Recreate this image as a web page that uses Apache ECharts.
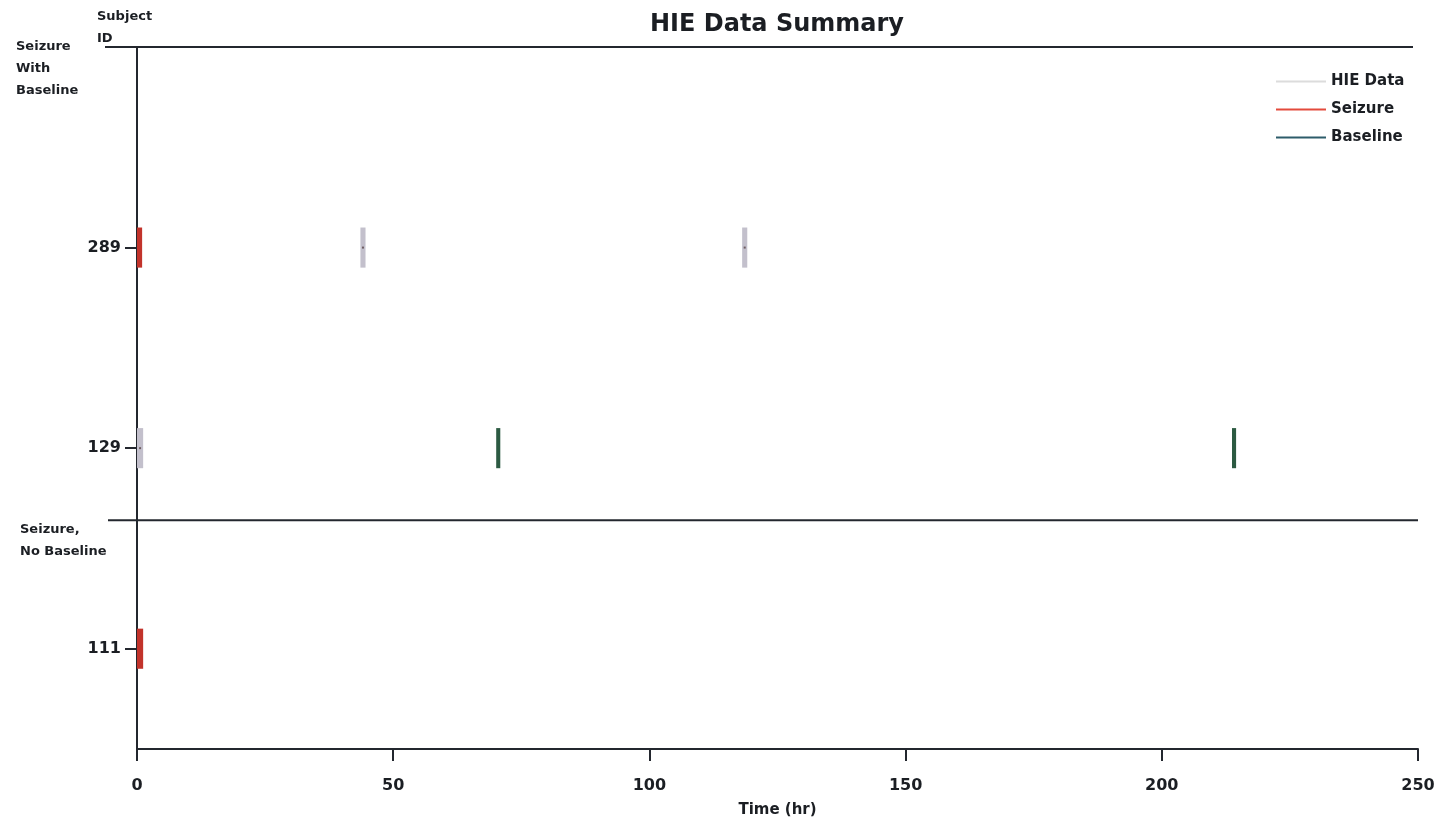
<!DOCTYPE html>
<html>
<head>
<meta charset="utf-8">
<title>HIE Data Summary</title>
<script src="https://cdn.jsdelivr.net/npm/echarts@6/dist/echarts.min.js"></script>
<style>
  html, body { margin: 0; padding: 0; background: #fff; }
  #main { width: 1439px; height: 824px; }
</style>
</head>
<body>
<div id="main"></div>
<script>
// subjects, bottom to top (row i sits at i + 0.5)
var subjects = ['111', '129', '289'];

// intervals in hours: [start, end, subject row]
var hieData = [
    [43.6, 44.6, 2],
    [118.1, 119.1, 2],
    [0, 1.2, 1]
];
var seizureData = [
    [0, 1.0, 2],
    [0, 1.2, 0]
];
var baselineData = [
    [70.1, 70.9, 1],
    [213.7, 214.5, 1]
];

// group boundaries (y value of the line above each group)
var groupNames = ['Seizure\nWith\nBaseline', 'Seizure,\nNo Baseline'];
var groupTops = [3.5, 1.14];

var textColor = '#1b1e23';
var lineColor = '#23272e';
var font = 'DejaVu Sans';

var myChart = echarts.init(document.getElementById('main'));

function rowPos(i) {
    return i + 0.5;
}

// draw one interval as a thin vertical bar
function renderBar(params, api) {
    var y = rowPos(api.value(2));
    var p0 = api.coord([api.value(0), y + 0.1]);
    var p1 = api.coord([api.value(1), y - 0.1]);
    var w = Math.max(p1[0] - p0[0], 3);
    var children = [{
        type: 'rect',
        shape: {x: p0[0], y: p0[1], width: w, height: p1[1] - p0[1]},
        style: {fill: api.visual('color')}
    }];
    if (params.seriesName === 'HIE Data') {
        // darker dot in the middle of the HIE marks
        children.push({
            type: 'rect',
            shape: {x: p0[0] + w / 2 - 1, y: (p0[1] + p1[1]) / 2 - 1, width: 2, height: 2},
            style: {fill: '#6e5c62'}
        });
    }
    return {type: 'group', children: children};
}

function barSeries(name, color, data) {
    return {
        name: name,
        type: 'custom',
        renderItem: renderBar,
        itemStyle: {color: color},
        encode: {x: [0, 1], y: 2},
        data: data,
        silent: true,
        z: 5
    };
}

var tickPos = subjects.map(function (s, i) { return rowPos(i); });

option = {
    animation: false,
    backgroundColor: '#fff',
    title: {
        text: 'HIE Data Summary',
        left: 645,
        top: 8,
        textStyle: {fontFamily: font, fontWeight: 'bold', fontSize: 24, color: textColor}
    },
    legend: {
        orient: 'vertical',
        left: 1271,
        top: 69,
        icon: 'rect',
        itemWidth: 50,
        itemHeight: 2,
        itemGap: 13,
        textStyle: {fontFamily: font, fontWeight: 'bold', fontSize: 15, color: textColor},
        data: [
            {name: 'HIE Data', itemStyle: {color: '#dcdcdc'}},
            {name: 'Seizure', itemStyle: {color: '#e34a3c'}},
            {name: 'Baseline', itemStyle: {color: '#2d5c6a'}}
        ]
    },
    grid: {left: 137, right: 21, top: 47, bottom: 75},
    xAxis: {
        type: 'value',
        min: 0,
        max: 250,
        interval: 50,
        name: 'Time (hr)',
        nameLocation: 'middle',
        nameGap: 54,
        nameTextStyle: {fontFamily: font, fontWeight: 'bold', fontSize: 15, color: textColor},
        axisLine: {show: true, lineStyle: {color: lineColor, width: 2}},
        axisTick: {show: true, length: 12, lineStyle: {color: lineColor, width: 2}},
        axisLabel: {
            margin: 29,
            fontFamily: font, fontWeight: 'bold', fontSize: 16, color: textColor
        },
        splitLine: {show: false}
    },
    yAxis: {
        type: 'value',
        min: 0,
        max: 3.5,
        axisLine: {show: true, lineStyle: {color: lineColor, width: 2}},
        axisTick: {show: true, length: 12, customValues: tickPos, lineStyle: {color: lineColor, width: 2}},
        axisLabel: {
            customValues: tickPos,
            margin: 16,
            fontFamily: font, fontWeight: 'bold', fontSize: 16, color: textColor,
            formatter: function (v) {
                return subjects[Math.round(v - 0.5)] || '';
            }
        },
        splitLine: {show: false}
    },
    series: [
        barSeries('HIE Data', '#c3c0cc', hieData),
        barSeries('Seizure', '#c2332b', seizureData),
        barSeries('Baseline', '#2c5a42', baselineData)
    ]
};

myChart.setOption(option);

// group separator lines and group labels, placed from the y values
var graphics = [{
    type: 'text',
    left: 97,
    top: 6,
    style: {
        text: 'Subject\nID',
        fontFamily: font, fontWeight: 'bold', fontSize: 13, lineHeight: 22,
        fill: textColor
    }
}];
var labelTops = [36, 519];
groupTops.forEach(function (v, i) {
    var y = myChart.convertToPixel({yAxisIndex: 0}, v);
    graphics.push({
        type: 'line',
        shape: {x1: i === 0 ? 105 : 108, y1: y, x2: i === 0 ? 1413 : 1418, y2: y},
        style: {stroke: lineColor, lineWidth: 2},
        z: 10
    });
    graphics.push({
        type: 'text',
        left: i === 0 ? 16 : 20,
        top: labelTops[i],
        style: {
            text: groupNames[i],
            fontFamily: font, fontWeight: 'bold', fontSize: 13, lineHeight: 22,
            fill: textColor
        }
    });
});
myChart.setOption({graphic: graphics});
</script>
</body>
</html>
